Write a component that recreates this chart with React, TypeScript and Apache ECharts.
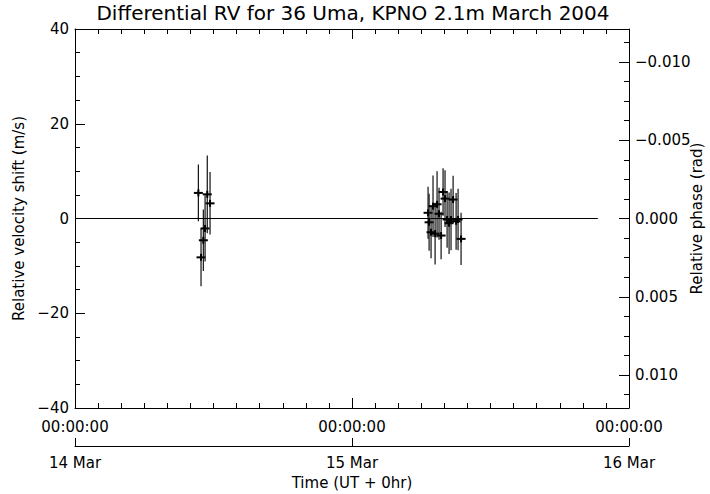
import React, { useEffect, useRef } from "react";
import * as echarts from "echarts";

// Observation times in hours after 14 Mar 2004 00:00 UT
const obsHours = [
  10.69, 10.92, 11.12, 11.27, 11.46, 11.7,
  30.59, 30.68, 30.85, 31.02, 31.2, 31.37, 31.54, 31.72, 31.89, 32.06, 32.24, 32.41, 32.58, 32.76, 33.02, 33.19, 33.45,
];
// Relative velocity shift (m/s)
const rvValues = [
  5.4, -8.2, -4.6, -2.1, 5.1, 3.2,
  1.2, -0.8, -2.9, 2.6, -3.2, 3.0, 1.0, -3.6, 5.6, 4.2, -0.2, -1.0, -0.2, 4.0, -0.6, -0.2, -4.3,
];
// Error (m/s)
const rvErrors = [
  6.0, 6.1, 6.5, 7.0, 8.2, 6.6,
  5.5, 6.0, 5.5, 6.5, 6.5, 7.0, 5.5, 5.0, 5.0, 6.0, 6.0, 6.5, 6.5, 5.0, 6.0, 6.5, 5.5,
];

const zeroLine = [
  [0, 0],
  [45.3, 0],
];

const timeLabels = ["00:00:00", "00:00:00", "00:00:00"];
const dateLabels = ["14 Mar", "15 Mar", "16 Mar"];
const phaseMajor = [-0.01, -0.005, 0, 0.005, 0.01];
const phaseMinor = [
  -0.01125, -0.00875, -0.0075, -0.00625, -0.00375, -0.0025, -0.00125,
  0.00125, 0.0025, 0.00375, 0.00625, 0.0075, 0.00875, 0.01125,
];
const phaseExtent = 0.0121;

const FONT = "DejaVu Sans";
const txt = { color: "#000", fontFamily: FONT, fontSize: 15 };

export default function App() {
  const ref = useRef<HTMLDivElement>(null);
  useEffect(() => {
    document.body.style.margin = "0";
    const chart = echarts.init(ref.current!, null, { renderer: "svg" });
    const pts = obsHours.map((h, i) => [h, rvValues[i], rvErrors[i]]);
    const lineStyle = { color: "#000", width: 1 };
    chart.setOption({
      animation: false,
      backgroundColor: "#fff",
      title: {
        text: "Differential RV for 36 Uma, KPNO 2.1m March 2004",
        left: 353,
        textAlign: "center",
        top: 3,
        padding: 0,
        textStyle: { ...txt, fontSize: 20, fontWeight: "normal" },
      },
      grid: { left: 75, right: 81, top: 29, bottom: 86, containLabel: false, outerBoundsMode: "none" },
      xAxis: [
        {
          type: "value",
          position: "bottom",
          min: 0,
          max: 48,
          interval: 24,
          axisLine: { show: true, onZero: false, lineStyle },
          axisTick: { show: true, inside: true, length: 10, lineStyle },
          minorTick: { show: true, splitNumber: 12, length: 5, lineStyle },
          splitLine: { show: false },
          axisLabel: { ...txt, margin: 11, formatter: (v: number) => timeLabels[Math.round(v / 24)] },
        },
        {
          type: "value",
          position: "top",
          min: 0,
          max: 48,
          interval: 24,
          axisLine: { show: true, onZero: false, lineStyle },
          axisTick: { show: true, inside: true, length: 10, lineStyle },
          minorTick: { show: true, splitNumber: 12, length: 5, lineStyle },
          splitLine: { show: false },
          axisLabel: { show: false },
        },
        {
          type: "value",
          position: "bottom",
          offset: 38,
          min: 0,
          max: 48,
          interval: 24,
          axisLine: { show: true, onZero: false, lineStyle },
          axisTick: { show: true, inside: true, length: 8, lineStyle },
          splitLine: { show: false },
          axisLabel: { ...txt, margin: 9, formatter: (v: number) => dateLabels[Math.round(v / 24)] },
          name: "Time (UT + 0hr)",
          nameLocation: "middle",
          nameGap: 29,
          nameMoveOverlap: false,
          nameTextStyle: txt,
        },
      ],
      yAxis: [
        {
          type: "value",
          position: "left",
          min: -40,
          max: 40,
          interval: 20,
          axisLine: { show: true, onZero: false, lineStyle },
          axisTick: { show: true, inside: true, length: 10, lineStyle },
          minorTick: { show: true, splitNumber: 4, length: 5, lineStyle },
          splitLine: { show: false },
          axisLabel: { ...txt, margin: 6, formatter: (v: number) => String(v).replace("-", "\u2212") },
          name: "Relative velocity shift (m/s)",
          nameLocation: "middle",
          nameGap: 49,
          nameMoveOverlap: false,
          nameTextStyle: txt,
        },
        {
          type: "value",
          position: "right",
          inverse: true,
          min: -phaseExtent,
          max: phaseExtent,
          axisLine: { show: true, onZero: false, lineStyle },
          axisTick: { show: true, inside: true, length: 10, lineStyle, customValues: phaseMajor },
          splitLine: { show: false },
          axisLabel: {
            ...txt,
            margin: 6,
            customValues: phaseMajor,
            formatter: (v: number) => (Math.abs(v) < 1e-9 ? "0.000" : v.toFixed(3).replace("-", "\u2212")),
          },
          name: "Relative phase (rad)",
          nameLocation: "middle",
          nameGap: 60,
          nameRotate: 90,
          nameMoveOverlap: false,
          nameTextStyle: txt,
        },
        {
          type: "value",
          position: "right",
          inverse: true,
          min: -phaseExtent,
          max: phaseExtent,
          axisLine: { show: false, onZero: false },
          axisTick: { show: true, inside: true, length: 5, lineStyle, customValues: phaseMinor },
          splitLine: { show: false },
          axisLabel: { show: false },
        },
      ],
      series: [
        {
          type: "line",
          data: zeroLine,
          xAxisIndex: 0,
          yAxisIndex: 0,
          symbol: "none",
          lineStyle: { color: "#000", width: 1 },
        },
        {
          type: "custom",
          xAxisIndex: 0,
          yAxisIndex: 0,
          data: pts,
          encode: { x: 0, y: 1 },
          renderItem: (_p: any, api: any) => {
            const x = api.value(0);
            const y = api.value(1);
            const e = api.value(2);
            const c = api.coord([x, y]);
            const t = api.coord([x, y + e]);
            const b = api.coord([x, y - e]);
            return {
              type: "group",
              children: [
                { type: "line", shape: { x1: c[0], y1: t[1], x2: c[0], y2: b[1] }, style: { stroke: "#111", lineWidth: 1.2 } },
                { type: "line", shape: { x1: c[0] - 4.5, y1: c[1], x2: c[0] + 4.5, y2: c[1] }, style: { stroke: "#000", lineWidth: 2 } },
                { type: "line", shape: { x1: c[0], y1: c[1] - 3.5, x2: c[0], y2: c[1] + 3.5 }, style: { stroke: "#000", lineWidth: 2 } },
              ],
            };
          },
        },
      ],
    });
    return () => chart.dispose();
  }, []);
  return <div ref={ref} style={{ position: "absolute", left: 0, top: 0, width: 710, height: 494 }} />;
}
